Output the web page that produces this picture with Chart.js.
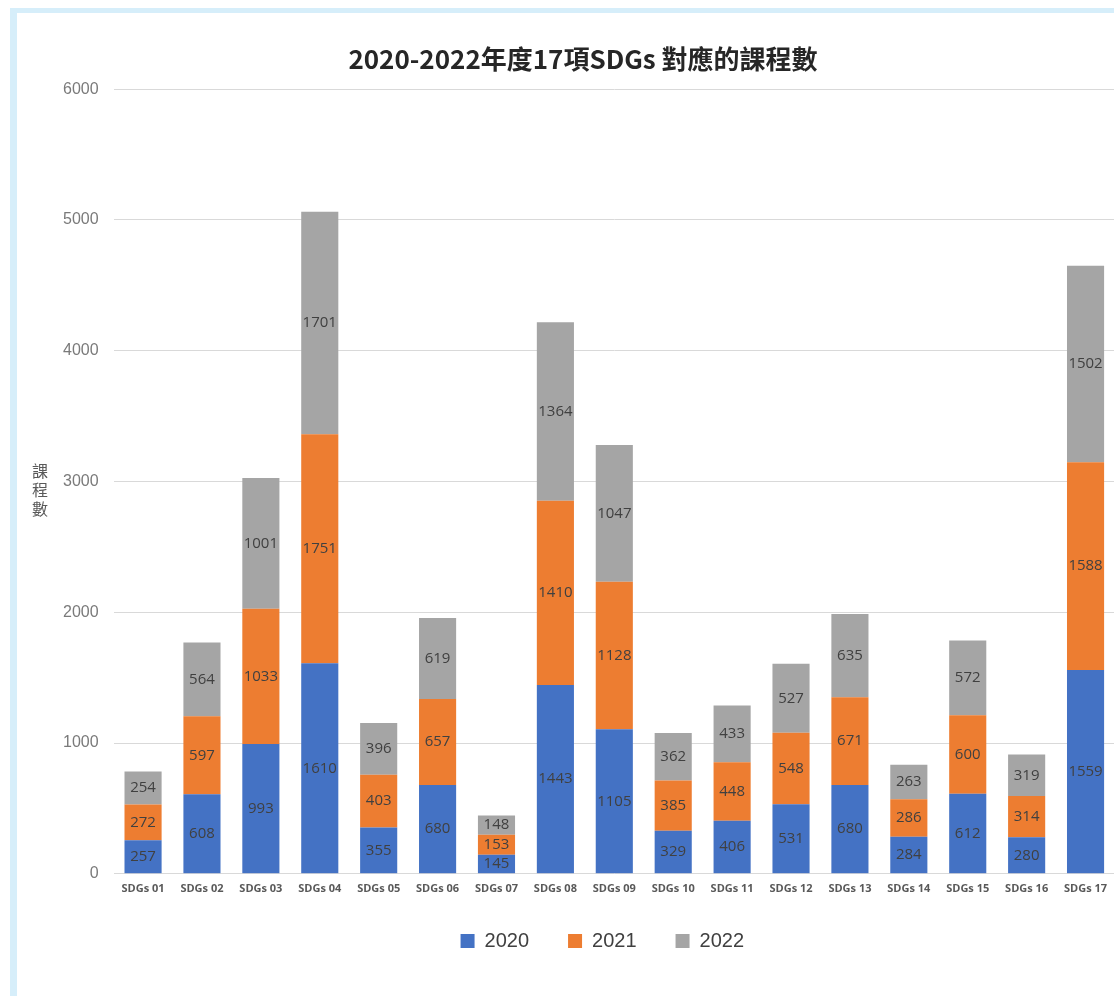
<!DOCTYPE html>
<html>
<head>
<meta charset="utf-8">
<script src="https://cdn.jsdelivr.net/npm/chart.js@4.4.1/dist/chart.umd.min.js"></script>
<style>
  html, body { margin: 0; padding: 0; background: #fff; overflow: hidden; }
  #frame {
    position: absolute; left: 10px; top: 8px;
    width: 1200px; height: 1000px;
    border-left: 7px solid #d6eefa; border-top: 5px solid #d6eefa;
  }
  #sdg-chart { display: block; }
</style>
</head>
<body>
<div id="frame">
  <canvas id="sdg-chart" width="1132" height="983"></canvas>
</div>
<script>
"use strict";
const categories = [
  "SDGs 01", "SDGs 02", "SDGs 03", "SDGs 04", "SDGs 05", "SDGs 06",
  "SDGs 07", "SDGs 08", "SDGs 09", "SDGs 10", "SDGs 11", "SDGs 12",
  "SDGs 13", "SDGs 14", "SDGs 15", "SDGs 16", "SDGs 17",
];
const seriesLabels = ["2020", "2021", "2022"];
const values2020 = [257, 608, 993, 1610, 355, 680, 145, 1443, 1105, 329, 406, 531, 680, 284, 612, 280, 1559];
const values2021 = [272, 597, 1033, 1751, 403, 657, 153, 1410, 1128, 385, 448, 548, 671, 286, 600, 314, 1588];
const values2022 = [254, 564, 1001, 1701, 396, 619, 148, 1364, 1047, 362, 433, 527, 635, 263, 572, 319, 1502];
const yTicks = [0, 1000, 2000, 3000, 4000, 5000, 6000];
const chartTitle = "2020-2022年度17項SDGs 對應的課程數";
const yAxisTitle = ["課", "程", "數"];

const seriesColors = ["#4472c4", "#ed7d31", "#a5a5a5"];

// value labels in the middle of every stacked segment
const segmentLabels = {
  id: "segmentLabels",
  afterDatasetsDraw(chart) {
    const ctx = chart.ctx;
    ctx.save();
    ctx.font = "15px 'Open Sans'";
    ctx.fillStyle = "#404040";
    ctx.textAlign = "center";
    ctx.textBaseline = "middle";
    chart.data.datasets.forEach((dataset, i) => {
      const meta = chart.getDatasetMeta(i);
      meta.data.forEach((bar, j) => {
        const midY = (bar.y + bar.base) / 2;
        ctx.fillText(String(dataset.data[j]), bar.x, midY);
      });
    });
    ctx.restore();
  },
};

// vertical stacked y axis title
const stackedAxisTitle = {
  id: "stackedAxisTitle",
  afterDraw(chart) {
    const ctx = chart.ctx;
    const area = chart.chartArea;
    const centerY = (area.top + area.bottom) / 2 + 8;
    const step = 19;
    ctx.save();
    ctx.font = "16px 'Noto Sans CJK TC'";
    ctx.fillStyle = "#595959";
    ctx.textAlign = "center";
    ctx.textBaseline = "middle";
    yAxisTitle.forEach((ch, k) => {
      ctx.fillText(ch, 23, centerY + (k - 1) * step);
    });
    ctx.restore();
  },
};

// pull the legend up and a bit to the left
const legendNudge = {
  id: "legendNudge",
  afterLayout(chart) {
    const lg = chart.legend;
    if (lg) {
      lg.top -= 11;
      lg.bottom -= 11;
      lg.left -= 12;
      lg.right -= 12;
    }
  },
};

const sdgChartElement = document.querySelector("#sdg-chart");
new Chart(sdgChartElement, {
  type: "bar",
  data: {
    labels: categories,
    datasets: [values2020, values2021, values2022].map((vals, i) => ({
      label: seriesLabels[i],
      data: vals,
      backgroundColor: seriesColors[i],
      borderWidth: 0,
      categoryPercentage: 1,
      barPercentage: 0.63,
    })),
  },
  options: {
    responsive: false,
    animation: false,
    layout: {
      padding: { left: 34, right: 34, top: 0, bottom: 24 },
    },
    scales: {
      x: {
        stacked: true,
        grid: { display: false, drawTicks: false },
        border: { display: false },
        ticks: {
          color: "#595959",
          font: { family: "'Open Sans'", size: 11, weight: "bold" },
          padding: 8,
          maxRotation: 0,
          autoSkip: false,
        },
      },
      y: {
        stacked: true,
        min: 0,
        max: 6000,
        afterBuildTicks(scale) {
          scale.ticks = yTicks.map((v) => ({ value: v }));
        },
        grid: { color: "#d9d9d9", drawTicks: false },
        border: { display: false },
        ticks: {
          color: "#7a7a7a",
          font: { family: "'Liberation Sans'", size: 16 },
          padding: 15,
          callback: (v) => String(v),
        },
        afterFit(scale) {
          scale.width = 62.6;
        },
      },
    },
    plugins: {
      title: {
        display: true,
        text: chartTitle,
        color: "#262626",
        font: { family: "'Noto Sans CJK TC'", size: 26, weight: "bold" },
        padding: { top: 31, bottom: 14 },
      },
      legend: {
        position: "bottom",
        fullSize: false,
        labels: {
          color: "#404040",
          font: { family: "'Liberation Sans'", size: 20 },
          boxWidth: 14,
          boxHeight: 14,
          padding: 39,
        },
      },
      tooltip: { enabled: false },
    },
  },
  plugins: [segmentLabels, stackedAxisTitle, legendNudge],
});
</script>
</body>
</html>
